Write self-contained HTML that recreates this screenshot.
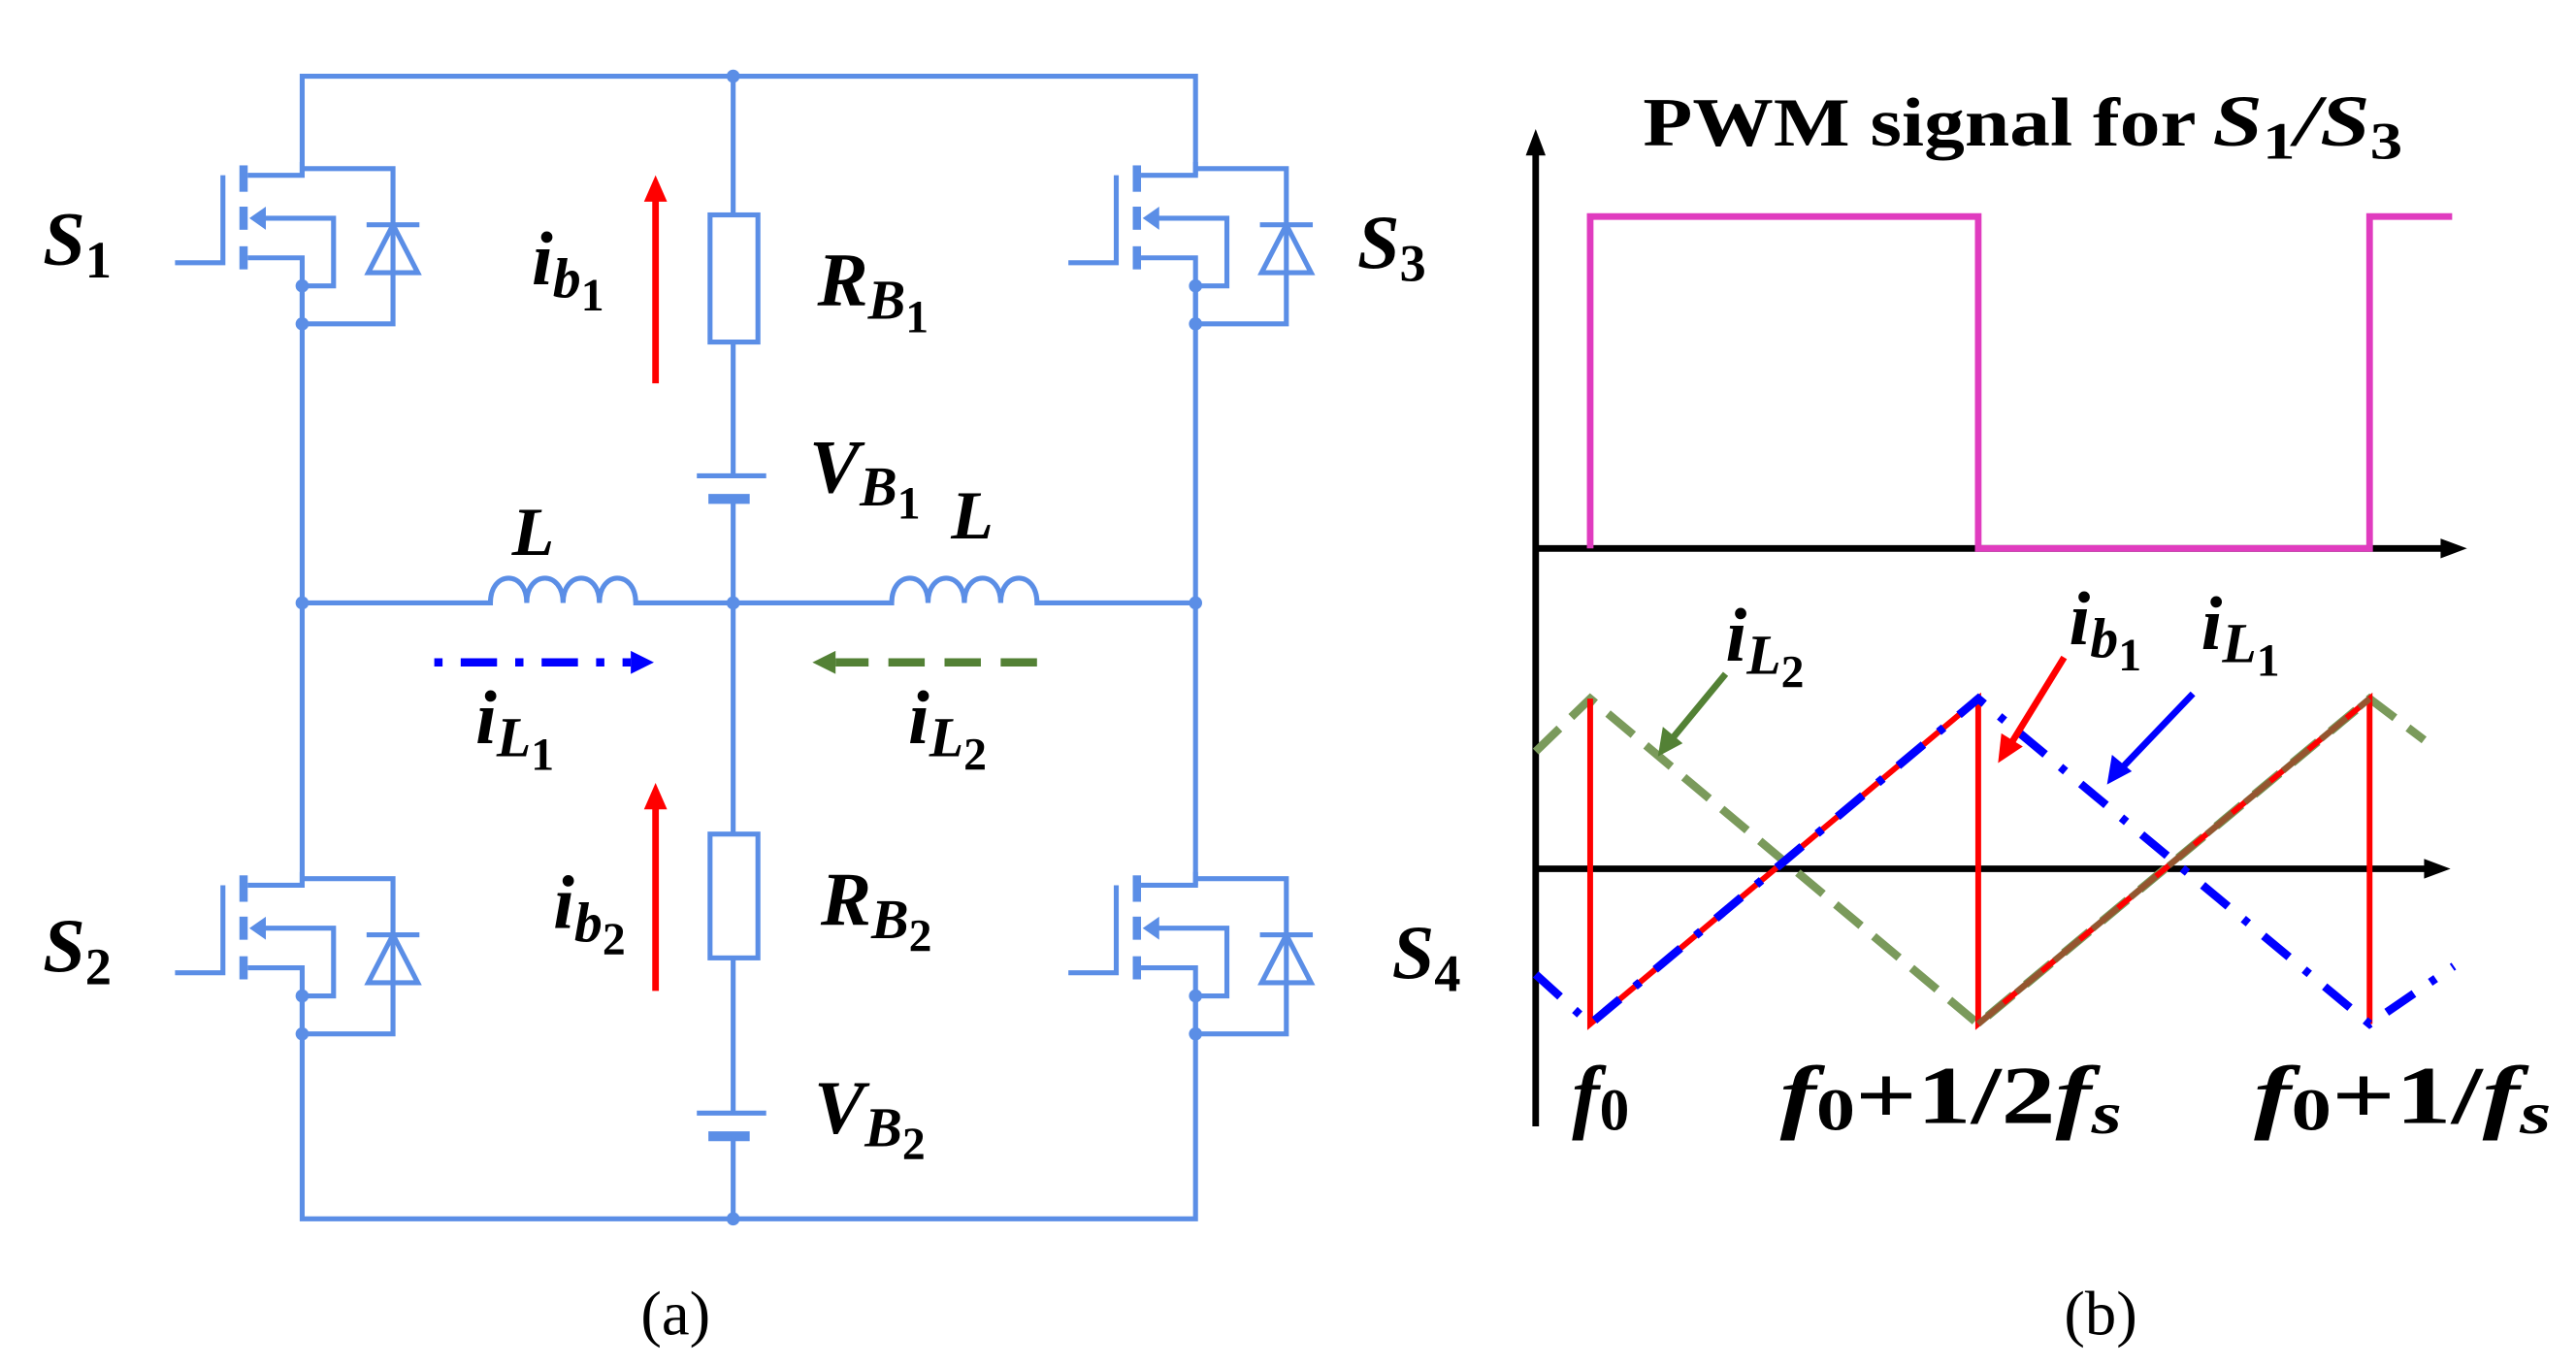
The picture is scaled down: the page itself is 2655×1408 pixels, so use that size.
<!DOCTYPE html>
<html><head><meta charset="utf-8"><style>html,body{margin:0;padding:0;background:#fff}svg{display:block}</style></head>
<body>
<svg width="2655" height="1408" viewBox="0 0 1560 827" xmlns="http://www.w3.org/2000/svg">
<defs>
<g id="mos" fill="none" stroke="#5b8ee6" stroke-width="3">
<path d="M-77,57 H-48 V4"/>
<rect x="-38" y="-2" width="5" height="16" fill="#5b8ee6" stroke="none"/>
<rect x="-38" y="23" width="5" height="14" fill="#5b8ee6" stroke="none"/>
<rect x="-38" y="47" width="5" height="14" fill="#5b8ee6" stroke="none"/>
<path d="M-33,4 H0 V-4"/>
<path d="M0,0 H55 V94 H0"/>
<polygon points="-32,30 -22,23 -22,37" fill="#5b8ee6" stroke="none"/>
<path d="M-24,30 H19 V71 H0"/>
<path d="M-33,54 H0 V94"/>
<circle cx="0" cy="71" r="4" fill="#5b8ee6" stroke="none"/>
<circle cx="0" cy="94" r="4" fill="#5b8ee6" stroke="none"/>
<path d="M39,34 H71"/>
<path d="M55,34 L40,63 H70 Z"/>
</g>
</defs>
<g fill="none" stroke="#5b8ee6" stroke-width="3">
<path d="M183,106 V46 H724 V106"/>
<path d="M183,173 V536"/><path d="M183,603 V738 H724 V603"/>
<path d="M724,173 V536"/>
<path d="M444,46 V130"/><rect x="430" y="130" width="29" height="77"/>
<path d="M444,207 V288"/><path d="M422,288 H464"/><path d="M429,302 H454" stroke-width="6"/>
<path d="M444,302 V505"/><rect x="430" y="505" width="29" height="75"/>
<path d="M444,580 V674"/><path d="M422,674 H464"/><path d="M429,688 H454" stroke-width="6"/>
<path d="M444,688 V738"/>
<path d="M183,365 H297 c0,-20 22,-20 22,0 c0,-20 22,-20 22,0 c0,-20 22,-20 22,0 c0,-20 22,-20 22,0 H540 c0,-20 22,-20 22,0 c0,-20 22,-20 22,0 c0,-20 22,-20 22,0 c0,-20 22,-20 22,0 H724"/>
</g>
<g fill="#5b8ee6"><circle cx="444" cy="46" r="4"/><circle cx="444" cy="738" r="4"/><circle cx="183" cy="365" r="4"/><circle cx="444" cy="365" r="4"/><circle cx="724" cy="365" r="4"/></g>
<use href="#mos" x="183" y="102"/><use href="#mos" x="724" y="102"/>
<use href="#mos" x="183" y="532"/><use href="#mos" x="724" y="532"/>
<path d="M397,232 V120" stroke="#f00" stroke-width="4"/><polygon points="397,106 390,122 404,122" fill="#f00"/>
<path d="M397,600 V488" stroke="#f00" stroke-width="4"/><polygon points="397,474 390,490 404,490" fill="#f00"/>
<path d="M263,401 H382" stroke="#00f" stroke-width="5" stroke-dasharray="5,11,22,11"/><polygon points="396,401 382,394 382,408" fill="#00f"/>
<path d="M628,401 H506" stroke="#538135" stroke-width="5" stroke-dasharray="22,12"/><polygon points="492,401 506,394 506,408" fill="#538135"/>
<g font-family="Liberation Serif, serif" font-weight="bold" font-style="italic" fill="#000" font-size="46">
<text x="26" y="160">S<tspan font-size="32" font-style="normal" dy="8">1</tspan></text>
<text x="26" y="588">S<tspan font-size="32" font-style="normal" dy="8">2</tspan></text>
<text x="822" y="162">S<tspan font-size="32" font-style="normal" dy="8">3</tspan></text>
<text x="843" y="592">S<tspan font-size="32" font-style="normal" dy="8">4</tspan></text>
<text x="322" y="172">i<tspan font-size="34" dy="8">b</tspan><tspan font-size="28" font-style="normal" dy="8">1</tspan></text>
<text x="335" y="562">i<tspan font-size="34" dy="8">b</tspan><tspan font-size="28" font-style="normal" dy="8">2</tspan></text>
<text x="288" y="450">i<tspan font-size="34" dy="8">L</tspan><tspan font-size="28" font-style="normal" dy="8">1</tspan></text>
<text x="550" y="450">i<tspan font-size="34" dy="8">L</tspan><tspan font-size="28" font-style="normal" dy="8">2</tspan></text>
<text x="495" y="185">R<tspan font-size="34" dy="8">B</tspan><tspan font-size="28" font-style="normal" dy="8">1</tspan></text>
<text x="497" y="560">R<tspan font-size="34" dy="8">B</tspan><tspan font-size="28" font-style="normal" dy="8">2</tspan></text>
<text x="490" y="298">V<tspan font-size="34" dy="8">B</tspan><tspan font-size="28" font-style="normal" dy="8">1</tspan></text>
<text x="493" y="686">V<tspan font-size="34" dy="8">B</tspan><tspan font-size="28" font-style="normal" dy="8">2</tspan></text>
<text x="310" y="336" font-size="42">L</text>
<text x="576" y="326" font-size="42">L</text>
<text x="1045" y="400">i<tspan font-size="34" dy="8">L</tspan><tspan font-size="28" font-style="normal" dy="8">2</tspan></text>
<text x="1253" y="390">i<tspan font-size="34" dy="8">b</tspan><tspan font-size="28" font-style="normal" dy="8">1</tspan></text>
<text x="1333" y="393">i<tspan font-size="34" dy="8">L</tspan><tspan font-size="28" font-style="normal" dy="8">1</tspan></text>
<text x="952" y="680" font-size="50">f<tspan font-size="36" font-style="normal" dy="4">0</tspan></text>
<text x="1078" y="680" font-size="50" textLength="207" lengthAdjust="spacingAndGlyphs">f<tspan font-size="36" font-style="normal" dy="4">0</tspan><tspan font-style="normal" dy="-4">+1/2</tspan>f<tspan font-size="36" dy="6">s</tspan></text>
<text x="1365" y="680" font-size="50" textLength="180" lengthAdjust="spacingAndGlyphs">f<tspan font-size="36" font-style="normal" dy="4">0</tspan><tspan font-style="normal" dy="-4">+1/</tspan>f<tspan font-size="36" dy="6">s</tspan></text>
</g>
<g font-family="Liberation Serif, serif" font-size="38" fill="#000">
<text x="388" y="808">(a)</text><text x="1250" y="808">(b)</text>
</g>
<text x="995" y="88" font-family="Liberation Serif, serif" font-weight="bold" font-size="42" textLength="335" lengthAdjust="spacingAndGlyphs">PWM signal for</text>
<text x="1340" y="88" font-family="Liberation Serif, serif" font-weight="bold" font-style="italic" font-size="44" textLength="115" lengthAdjust="spacingAndGlyphs">S<tspan font-size="32" font-style="normal" dy="8">1</tspan><tspan dy="-8">/S</tspan><tspan font-size="32" font-style="normal" dy="8">3</tspan></text>
<path d="M930,682 V88" stroke="#000" stroke-width="4"/><polygon points="930,78 924,94 936,94"/>
<path d="M930,332 H1480" stroke="#000" stroke-width="4"/><polygon points="1494,332 1478,326 1478,338"/>
<path d="M930,526 H1470" stroke="#000" stroke-width="4"/><polygon points="1484,526 1468,520 1468,532"/>
<path d="M963,332 V131 H1198 V332 H1435 V131 H1485" fill="none" stroke="#e03cbf" stroke-width="4"/>
<path d="M930,455 L963,423 L1198,620 L1435,423 L1468,448" fill="none" stroke="#7a9a5b" stroke-width="5" stroke-dasharray="20,10"/>
<path d="M963,423 V620 L1198,423 V620 L1435,423 V620" fill="none" stroke="#f00" stroke-width="3.5"/>
<path d="M930,590 L963,620 L1198,423 L1435,620 L1486,585" fill="none" stroke="#00f" stroke-width="5" stroke-dasharray="20,12,4,12"/>
<path d="M1198,620 L1435,423" fill="none" stroke="#7a6a3b" stroke-width="4" stroke-dasharray="20,10" opacity="0.8"/>
<path d="M1045,408 L1012,448" stroke="#538135" stroke-width="4"/><polygon points="1004,458 1007,440 1019,450" fill="#538135"/>
<path d="M1250,398 L1218,450" stroke="#f00" stroke-width="4"/><polygon points="1210,462 1212,444 1225,452" fill="#f00"/>
<path d="M1328,420 L1284,466" stroke="#00f" stroke-width="4"/><polygon points="1276,475 1279,457 1291,467" fill="#00f"/>
</svg>
</body></html>
